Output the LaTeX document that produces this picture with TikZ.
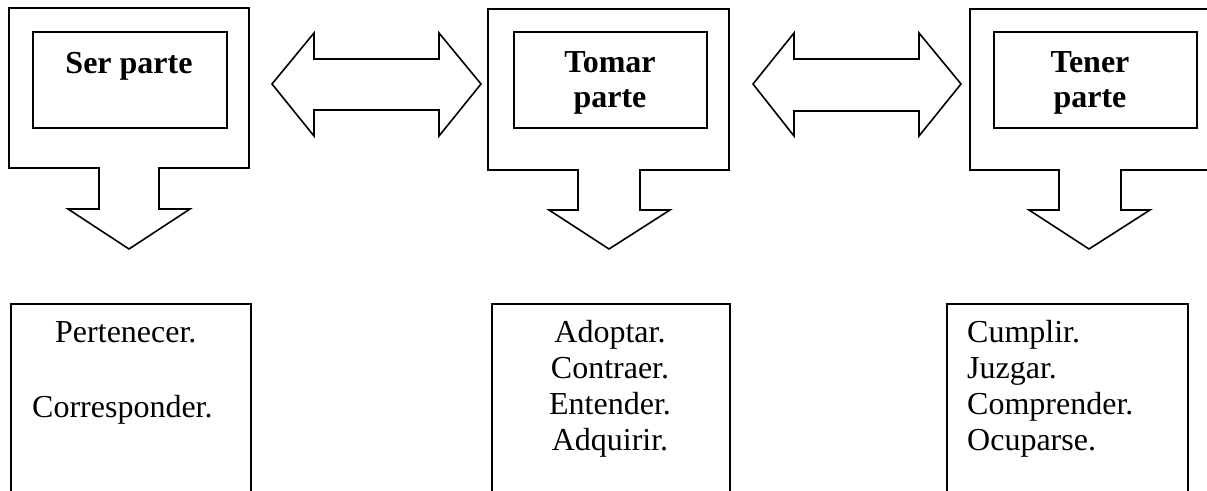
\documentclass[tikz,border=0pt]{standalone}
\usepackage{fontspec}
\setmainfont{Liberation Serif}
\begin{document}
\begin{tikzpicture}[x=1pt,y=-1pt,
  shapeline/.style={draw=black,line width=1.6pt,fill=white,line join=miter},
  boxnode/.style={draw=black,line width=1.6pt,fill=white,inner sep=0pt,anchor=north west},
  head/.style={font=\fontsize{32}{36}\selectfont\bfseries,anchor=base,inner sep=0pt},
  item/.style={font=\fontsize{32}{36}\selectfont,anchor=base,inner sep=0pt},
  itemw/.style={font=\fontsize{32}{36}\selectfont,anchor=base west,inner sep=0pt}]
\useasboundingbox (0,0) rectangle (1207,490);
\clip (0,0) rectangle (1207,490);
\fill[white] (0,0) rectangle (1207,490);

% callout shapes (box with down arrow)
\draw[shapeline] (9,8) -- (249,8) -- (249,168) -- (159,168) -- (159,209) -- (190,209)
  -- (129,249) -- (68,209) -- (99,209) -- (99,168) -- (9,168) -- cycle;
\draw[shapeline] (488,9) -- (729,9) -- (729,170) -- (640,170) -- (640,210) -- (670,210)
  -- (609,249) -- (549,210) -- (578,210) -- (578,170) -- (488,170) -- cycle;
\draw[shapeline] (970,9) -- (1225,9) -- (1225,170) -- (1121,170) -- (1121,210) -- (1150,210)
  -- (1089,249) -- (1029,210) -- (1059,210) -- (1059,170) -- (970,170) -- cycle;

% inner boxes
\node[boxnode,minimum width=194pt,minimum height=96pt] (in1) at (32,31) {};
\node[boxnode,minimum width=193pt,minimum height=96pt] (in2) at (513,31) {};
\node[boxnode,minimum width=203pt,minimum height=96pt] (in3) at (993,31) {};

% heading texts
\node[head] (h1) at (129,73) {Ser parte};
\node[head] (h2a) at (610,72) {Tomar};
\node[head] (h2b) at (610,107) {parte};
\node[head] (h3a) at (1090,72) {Tener};
\node[head] (h3b) at (1090,107) {parte};

% double arrows
\draw[shapeline] (272,84) -- (314,33) -- (314,59) -- (439,59) -- (439,33) -- (481,84)
  -- (439,136) -- (439,110) -- (314,110) -- (314,136) -- cycle;
\draw[shapeline] (753,84) -- (794,33) -- (794,59) -- (919,59) -- (919,33) -- (961,84)
  -- (919,136) -- (919,111) -- (794,111) -- (794,136) -- cycle;

% lower boxes (open at the bottom edge)
\node[boxnode,minimum width=240pt,minimum height=220pt] (b1) at (10,303) {};
\node[boxnode,minimum width=238pt,minimum height=220pt] (b2) at (491,303) {};
\node[boxnode,minimum width=241pt,minimum height=220pt] (b3) at (946,303) {};

% lower texts
\node[itemw] (t11) at (55,342) {Pertenecer.};
\node[itemw] (t12) at (32,417) {Corresponder.};

\node[item] (t21) at (610,342) {Adoptar.};
\node[item] (t22) at (610,378) {Contraer.};
\node[item] (t23) at (610,414) {Entender.};
\node[item] (t24) at (610,450) {Adquirir.};

\node[itemw] (t31) at (967,342) {Cumplir.};
\node[itemw] (t32) at (967,378) {Juzgar.};
\node[itemw] (t33) at (967,414) {Comprender.};
\node[itemw] (t34) at (967,450) {Ocuparse.};
\end{tikzpicture}
\end{document}
